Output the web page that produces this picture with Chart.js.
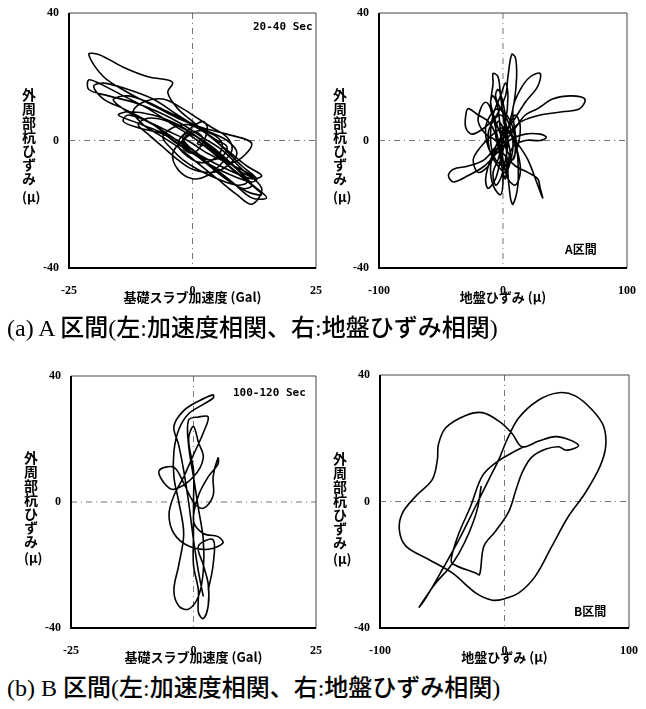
<!DOCTYPE html>
<html>
<head>
<meta charset="utf-8">
<script src="https://cdn.jsdelivr.net/npm/chart.js@4"></script>
<style>
  body { margin: 0; background: #fff; width: 646px; height: 709px; position: relative; overflow: hidden; }
  canvas { position: absolute; }
  .ytitle { position: absolute; writing-mode: vertical-rl; text-orientation: upright; font: 700 14px "Noto Sans CJK JP"; line-height: 1; color: #000; }
  .yunit { position: absolute; font: 700 13px "Noto Sans CJK JP"; line-height: 1; color: #000; }
  .sec { position: absolute; font: 700 11px "DejaVu Sans Mono"; line-height: 1; color: #000; }
  .zone { position: absolute; font: 700 12px "Noto Sans CJK JP"; line-height: 1; color: #000; }
  .cap { position: absolute; left: 7px; font: 500 24px "Liberation Serif", "Noto Sans CJK JP"; line-height: 24px; color: #000; white-space: nowrap; }
</style>
</head>
<body>
<canvas id="aAcc" width="330" height="305" style="left:0;top:0"></canvas>
<canvas id="aSoil" width="316" height="305" style="left:330px;top:0"></canvas>
<canvas id="bAcc" width="330" height="305" style="left:0;top:360px"></canvas>
<canvas id="bSoil" width="316" height="305" style="left:330px;top:360px"></canvas>

<div class="ytitle" style="left:22px;top:88px">外周部杭ひずみ</div>
<div class="yunit" style="left:22px;top:190px">(μ)</div>
<div class="ytitle" style="left:333px;top:88px">外周部杭ひずみ</div>
<div class="yunit" style="left:333px;top:190px">(μ)</div>
<div class="ytitle" style="left:24px;top:451px">外周部杭ひずみ</div>
<div class="yunit" style="left:24px;top:551px">(μ)</div>
<div class="ytitle" style="left:333px;top:452px">外周部杭ひずみ</div>
<div class="yunit" style="left:333px;top:552px">(μ)</div>

<div class="sec" style="left:253px;top:21px">20-40 Sec</div>
<div class="sec" style="left:233px;top:387px">100-120 Sec</div>
<div class="zone" style="left:565px;top:243px">A区間</div>
<div class="zone" style="left:574px;top:605px">B区間</div>

<div class="cap" style="top:316px">(a) A 区間(左:加速度相関、右:地盤ひずみ相関)</div>
<div class="cap" style="top:676px">(b) B 区間(左:加速度相関、右:地盤ひずみ相関)</div>

<script>
// tick values
var accTicks = [-25, 0, 25];
var soilTicks = [-100, 0, 100];
var pileTicks = [-40, 0, 40];

// (a) A区間 : 基礎スラブ加速度 (Gal) vs 外周部杭ひずみ (μ)
var aAccGal = [1,4,8,12,7,2,-3,-8,-13,-18, -21,-19,-14,-9,-5,-4,-5,-3,0,3, 6,10,13,12,8,4,0,-4,-8,-13,
  -14,-11,-6,-2,3,8,12,15,13,9, 5,1,-4,-9,-14,-19,-21,-21,-17,-12, -7,-2,2,6,10,14,12,9,5,1,
  -3,-7,-10,-12,-10,-6,-2,1,4,7, 8,6,3,0,-3,-4,-2,1,4,6, 5,2,-1,-3,-1,2,3,2,0,-2, -1,1,
  4,7,10,13,11,7,3,-1,-5,-9, -12,-15,-16,-13,-9,-5,-1,3,7,9, 7,4,0,-3,-6,-9,-11,-9,-5,-1,
  3,6,9,11,9,5,1,-2,-4,-6, -4,-1,2,5,7,6,3,0,-2,0, 2,1,
  3,8,12,14,11,6,1,-4,-9,-14, -18,-20,-18,-13,-8,-3,2,7,11,14, 12,7,2,-3,-7,-12,-15,-13,-8,-3,
  1,5,9,12,10,5,1,-2,0,1];
var aAccPile = [1,-3,-7,-1,2,4,7,11,15,20, 27,27,23,20,19,18,15,10,6,2, -2,-8,-12,-13,-11,-8,-4,0,5,8,
  6,4,2,-2,-7,-13,-18,-18,-15,-10, -5,0,5,10,14,18,19,16,14,12, 9,5,1,-3,-9,-15,-20,-17,-12,-7,
  -2,2,5,9,12,13,10,7,4,1, -3,-7,-11,-12,-9,-4,0,3,2,-1, -5,-7,-5,-1,3,6,4,-1,-4,-2, 2,1,
  -2,-6,-10,-12,-10,-7,-4,0,3,6, 8,11,13,14,12,9,6,3,0,-4, -8,-10,-9,-6,-2,2,5,7,6,3,
  -1,-5,-9,-13,-14,-12,-9,-6,-3,1, 4,5,3,0,-2,-5,-6,-3,1,3, 1,-1,
  -2,-9,-14,-17,-16,-11,-5,1,6,10, 13,17,18,16,13,8,3,-3,-8,-11, -12,-9,-5,0,3,6,8,9,8,5,
  1,-4,-9,-14,-15,-10,-4,0,2,1];

// (a) A区間 : 地盤ひずみ (μ) vs 外周部杭ひずみ (μ)
var aSoilStrain = [0,-5,-10,-8,-8,-4,-2,0,2,3, 2,0,-3,-6,-12,-20,-28,-30,-30,-25, -15,-5,2,4,7,10,11,9,5,2,
  -2,-6,-12,-14,-10,-4,2,10,18,28, 40,55,66,62,48,30,15,6,-4,-15, -28,-40,-44,-40,-28,-15,-5,5,18,30,
  35,30,18,8,4,6,8,12,12,10, 8,14,22,30,28,18,8,0,-6,-10, -8,-2,0,-2,-6,-10,-14,-18,-20,-14,
  -6,0,10,20,28,30,32,28,20,10, 2,-2,0,
  3,8,10,8,3,-4,-10,-14,-12,-6, 0,6,8,4,-2,-6,-4,0,2,0, -4,-8,-6,-2,2,4,2,-2,-8,-12,
  -10,-4,2,6,4,0,-4,-6,-3,0,
  4,10,14,10,2,-6,-10,-8,-2,2, 4,2,-4,-12,-20,-24,-18,-8,0,6, 12,14,10,4,0,-2,-4,-8,-10,-6, 0];
var aSoilPile = [0,5,10,18,21,20,14,8,2,-6, -12,-10,-4,2,6,8,10,8,4,2, 4,8,14,20,27,26,20,12,5,0,
  -6,-12,-15,-12,-6,-2,0,4,8,10, 13,14,13,10,9,8,6,3,-1,-6, -8,-9,-11,-13,-11,-8,-4,0,2,2,
  1,0,0,-2,-8,-18,-20,-14,-6,2, 10,16,20,21,17,12,6,2,-2,-8, -14,-17,-12,-4,4,10,12,10,6,2,
  0,-4,-8,-10,-12,-15,-18,-14,-6,0, 4,2,0,
  -3,-6,-2,4,8,10,8,4,-2,-6, -8,-6,0,6,10,14,16,12,6,0, -6,-10,-14,-12,-6,0,6,8,6,2,
  -4,-8,-10,-6,0,4,6,2,-2,0,
  4,8,4,-4,-8,-6,0,8,14,18, 14,6,-2,-8,-10,-6,-2,2,4,2, -4,-10,-14,-12,-6,2,10,14,12,6, 0];

// (b) B区間 : 基礎スラブ加速度 (Gal) vs 外周部杭ひずみ (μ)
var bAccGal = [2,1,0,-1,-2,-3,-4,-2,1,4, 4,2,-1,-3,-4,-4,-3,-2,-3,-4, -3,-1,1,2,2,1,0,-1,-1,1,
  3,2,0,-2,-4,-5,-4,-1,3,6, 5,2,0,1,3,5,5,4,4,2, 0,-2,-4,-7,-6,-4,0,2,1,0,
  -1,0,0,0,0,1,1,2,3,3, 2,1,4,4,3];
var bAccPile = [-30,-22,-12,0,10,18,24,29,32,34, 33,31,28,23,16,8,0,-10,-20,-28, -33,-34,-30,-22,-12,-2,8,18,26,27,
  27,22,15,8,2,-4,-10,-14,-15,-13, -11,-10,-6,2,8,12,14,8,2,-2, 0,6,11,10,6,4,8,14,19,24,
  20,10,0,-10,-20,-28,-35,-37,-33,-26, -20,-14,-12,-20,-28];

// (b) B区間 : 地盤ひずみ (μ) vs 外周部杭ひずみ (μ)
var bSoilStrain = [-18.7,-21.9,-28.5,-36.5,-44.5,-55.2,-64.5,-68.5,-62.7,-49.9,
  -36.5,-23.2,-12.5,-4.5,2.1,11.5,27.5,43.5,56.8,70.1,
  79.5,81.3,76.8,64.8,51.5,38.1,24.8,11.5,-0.5,-9.9,
  -23.2,-41.9,-60.5,-79.2,-84.5,-81.9,-71.2,-57.9,-53.9,-53.1,
  -47.2,-31.2,-17.9,-4.5,6.1,14.1,27.5,40.8,51.5,59.5,
  54.1,48.8,43.5,32.8,22.1,14.7,9.3,3.5,-7.2,-16.5,
  -20.0,-23.2,-41.9,-42.4,-36.5,-27.2,-17.9,-7.2,6.1,15.5];
var bSoilPile = [4.9,-2.5,-9.9,-16.3,-21.0,-25.8,-31.0,-33.4,-30.2,-21.5,
  -12.0,-1.5,7.0,13.3,19.6,26.5,32.1,34.4,33.4,29.1,
  23.9,17.5,11.2,2.7,-4.6,-14.1,-23.6,-28.9,-30.8,-31.2,
  -28.9,-22.6,-18.4,-14.1,-8.9,-3.6,1.7,7.0,13.3,18.0,
  23.3,27.2,28.1,25.4,21.5,17.3,19.1,20.5,19.6,17.7,
  16.5,16.3,17.3,16.5,14.1,9.6,3.8,-3.1,-9.4,-14.1,
  -23.1,-22.6,-19.6,-17.3,-9.9,-1.5,8.0,12.2,15.4,17.3];

// frame + dash-dot zero lines
var framePlugin = {
  id: 'frame',
  beforeDatasetsDraw: function(chart) {
    var a = chart.chartArea, ctx = chart.ctx;
    var x0 = chart.scales.x.getPixelForValue(0);
    var y0 = chart.scales.y.getPixelForValue(0);
    ctx.save();
    ctx.strokeStyle = '#777';
    ctx.lineWidth = 1;
    ctx.setLineDash([6, 4, 1, 4]);
    ctx.beginPath();
    ctx.moveTo(a.left, y0); ctx.lineTo(a.right, y0);
    ctx.moveTo(x0, a.top); ctx.lineTo(x0, a.bottom);
    ctx.stroke();
    ctx.setLineDash([]);
    ctx.strokeStyle = '#444';
    ctx.lineWidth = 1;
    ctx.beginPath();
    ctx.moveTo(a.left, a.top); ctx.lineTo(a.right, a.top); ctx.lineTo(a.right, a.bottom);
    ctx.stroke();
    ctx.strokeStyle = '#000';
    ctx.lineWidth = 2;
    ctx.beginPath();
    ctx.moveTo(a.left, a.top); ctx.lineTo(a.left, a.bottom); ctx.lineTo(a.right, a.bottom);
    ctx.stroke();
    ctx.restore();
  }
};

function makeChart(id, xs, ys, xTicks, xTitle, yWidth, padTop, padRight) {
  var ctx = document.getElementById(id).getContext('2d');
  return new Chart(ctx, {
    type: 'scatter',
    data: {
      datasets: [{
        data: xs.map(function(x, i) { return {x: x, y: ys[i]}; }),
        showLine: true,
        borderColor: '#000',
        borderWidth: 1.6,
        pointRadius: 0,
        tension: 0.35,
        fill: false
      }]
    },
    options: {
      responsive: false,
      animation: false,
      events: [],
      layout: { padding: { top: padTop, right: padRight, left: 0, bottom: 0 } },
      plugins: { legend: { display: false }, tooltip: { enabled: false } },
      scales: {
        x: {
          type: 'linear', min: xTicks[0], max: xTicks[xTicks.length - 1],
          afterBuildTicks: function(s) { s.ticks = xTicks.map(function(v) { return {value: v}; }); },
          afterFit: function(s) { s.height = 37; },
          grid: { display: false }, border: { display: false },
          ticks: { color: '#000', font: { family: '"Liberation Serif"', size: 12, weight: 'bold' }, padding: 8, maxRotation: 0, autoSkip: false },
          title: { display: true, text: xTitle, color: '#000', font: { family: '"Noto Sans CJK JP"', size: 13, weight: 'bold' }, padding: { top: 0, bottom: 0 } }
        },
        y: {
          type: 'linear', min: pileTicks[0], max: pileTicks[pileTicks.length - 1],
          afterBuildTicks: function(s) { s.ticks = pileTicks.map(function(v) { return {value: v}; }); },
          afterFit: function(s) { s.width = yWidth; },
          grid: { display: false }, border: { display: false },
          ticks: { color: '#000', font: { family: '"Liberation Serif"', size: 12, weight: 'bold' }, padding: 2, autoSkip: false }
        }
      }
    },
    plugins: [framePlugin]
  });
}

makeChart('aAcc', aAccGal, aAccPile, accTicks, '基礎スラブ加速度 (Gal)', 69, 13, 8);
makeChart('aSoil', aSoilStrain, aSoilPile, soilTicks, '地盤ひずみ (μ)', 49, 13, 19);
makeChart('bAcc', bAccGal, bAccPile, accTicks, '基礎スラブ加速度 (Gal)', 71, 16, 8);
makeChart('bSoil', bSoilStrain, bSoilPile, soilTicks, '地盤ひずみ (μ)', 50, 15, 16);
</script>
</body>
</html>
